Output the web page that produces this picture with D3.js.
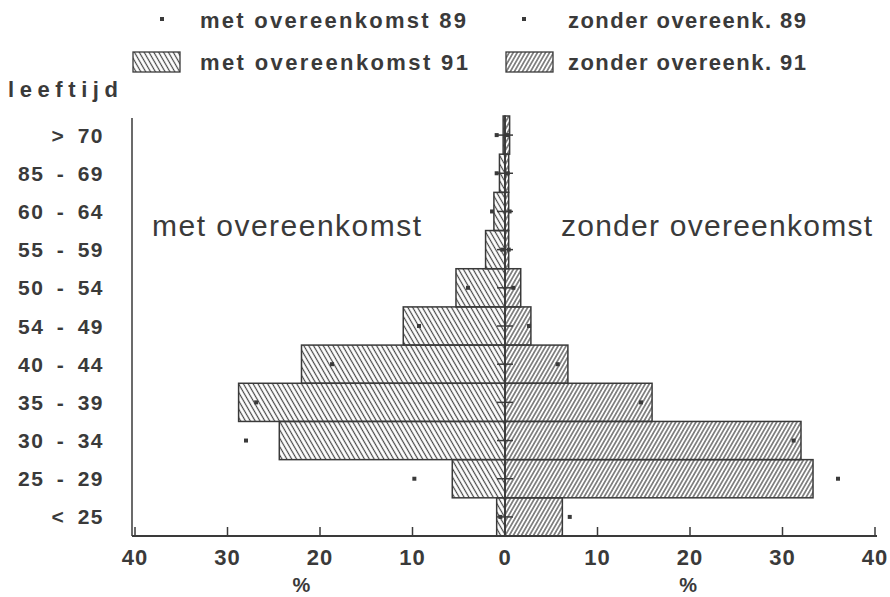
<!DOCTYPE html>
<html>
<head>
<meta charset="utf-8">
<script src="https://cdn.jsdelivr.net/npm/d3@7"></script>
<style>
  html, body { margin: 0; padding: 0; background: #fff; }
  svg { display: block; }
  text { font-family: "Liberation Sans", Arial, sans-serif; fill: #3a3a3a; }
</style>
</head>
<body>
<svg id="chart" width="890" height="597"></svg>
<script>
// Age groups, top to bottom
const ageGroups = ["> 70", "85 - 69", "60 - 64", "55 - 59", "50 - 54", "54 - 49",
                   "40 - 44", "35 - 39", "30 - 34", "25 - 29", "< 25"];

// Percent per age group, 1991 (bars)
const met91    = [0.2, 0.6, 1.2, 2.1, 5.3, 11.0, 22.0, 28.8, 24.4, 5.7, 0.9];
const zonder91 = [0.5, 0.4, 0.4, 0.4, 1.7, 2.8, 6.8, 15.9, 32.0, 33.3, 6.2];

// Percent per age group, 1989 (dots)
const met89    = [0.9, 0.9, 1.4, 0.3, 4.0, 9.3, 18.7, 26.9, 28.0, 9.8, 0.5];
const zonder89 = [0.3, 0.3, 0.5, 0.4, 0.9, 2.6, 5.7, 14.7, 31.2, 36.0, 7.0];

// Axis tick values (percent) on each side
const xTicks = [0, 10, 20, 30, 40];

// Legend entries
const legendLabels = ["met overeenkomst 89", "zonder overeenk. 89",
                      "met overeenkomst 91", "zonder overeenk. 91"];

const ink = "#3a3a3a";
const svg = d3.select("#chart");

const center = 505, axisY = 536, left = 132, right = 877;
const xMet = d3.scaleLinear().domain([0, 40]).range([center, center - 370]);
const xZon = d3.scaleLinear().domain([0, 40]).range([center, center + 370]);
const y = d3.scaleBand().domain(ageGroups).range([116, axisY]).padding(0);

// Hatch patterns
const defs = svg.append("defs");
function hatch(id, angle, gap) {
  const p = defs.append("pattern")
    .attr("id", id).attr("patternUnits", "userSpaceOnUse")
    .attr("width", gap).attr("height", 10)
    .attr("patternTransform", `rotate(${angle})`);
  p.append("line").attr("x1", gap / 2).attr("x2", gap / 2)
    .attr("y1", -1).attr("y2", 11)
    .attr("stroke", "#454545").attr("stroke-width", 1.2);
}
hatch("hatchMet", -30, 4.2);
hatch("hatchZon", 30, 3.5);

// Bars 1991
const g = svg.append("g");
g.selectAll("rect.met").data(ageGroups).join("rect")
  .attr("class", "met")
  .attr("x", (d, i) => xMet(met91[i]))
  .attr("y", d => y(d))
  .attr("width", (d, i) => xMet(0) - xMet(met91[i]))
  .attr("height", y.bandwidth())
  .attr("fill", "url(#hatchMet)")
  .attr("stroke", ink).attr("stroke-width", 1.5);

g.selectAll("rect.zon").data(ageGroups).join("rect")
  .attr("class", "zon")
  .attr("x", xZon(0))
  .attr("y", d => y(d))
  .attr("width", (d, i) => xZon(zonder91[i]) - xZon(0))
  .attr("height", y.bandwidth())
  .attr("fill", "url(#hatchZon)")
  .attr("stroke", ink).attr("stroke-width", 1.5);

// Centre line with its age-group ticks
g.append("line")
  .attr("x1", center).attr("x2", center)
  .attr("y1", y.range()[0]).attr("y2", axisY)
  .attr("stroke", ink).attr("stroke-width", 1.6);
g.selectAll("line.ctick").data(ageGroups).join("line")
  .attr("class", "ctick")
  .attr("x1", center - 8).attr("x2", center + 8)
  .attr("y1", d => y(d) + y.bandwidth() / 2)
  .attr("y2", d => y(d) + y.bandwidth() / 2)
  .attr("stroke", ink).attr("stroke-width", 1.5);

// Dots 1989
const dot = 4;
g.selectAll("rect.d89m").data(ageGroups).join("rect")
  .attr("class", "d89m")
  .attr("x", (d, i) => xMet(met89[i]) - dot / 2)
  .attr("y", d => y(d) + y.bandwidth() / 2 - dot / 2)
  .attr("width", dot).attr("height", dot).attr("fill", ink);
g.selectAll("rect.d89z").data(ageGroups).join("rect")
  .attr("class", "d89z")
  .attr("x", (d, i) => xZon(zonder89[i]) - dot / 2)
  .attr("y", d => y(d) + y.bandwidth() / 2 - dot / 2)
  .attr("width", dot).attr("height", dot).attr("fill", ink);

// Frame: left axis line and bottom axis line
svg.append("line").attr("x1", left).attr("x2", left)
  .attr("y1", 118).attr("y2", axisY)
  .attr("stroke", ink).attr("stroke-width", 1.5);
svg.append("line").attr("x1", left).attr("x2", right)
  .attr("y1", axisY).attr("y2", axisY)
  .attr("stroke", ink).attr("stroke-width", 1.8);

// Bottom ticks (inward) and labels on both sides
const tickData = [];
xTicks.forEach(v => { if (v > 0) tickData.push({ v, x: xMet(v) }); });
xTicks.forEach(v => { tickData.push({ v, x: xZon(v) }); });
svg.selectAll("line.xt").data(tickData.filter(d => d.v > 0)).join("line")
  .attr("class", "xt")
  .attr("x1", d => d.x).attr("x2", d => d.x)
  .attr("y1", axisY).attr("y2", axisY - 9)
  .attr("stroke", ink).attr("stroke-width", 1.5);
svg.selectAll("text.xl").data(tickData).join("text")
  .attr("class", "xl")
  .attr("x", d => d.x).attr("y", 565)
  .attr("text-anchor", "middle")
  .attr("font-size", 22).attr("font-weight", "bold")
  .attr("letter-spacing", 1)
  .text(d => d.v);
svg.selectAll("text.pct").data([xMet(22), xZon(19.8)]).join("text")
  .attr("class", "pct")
  .attr("x", d => d).attr("y", 592)
  .attr("text-anchor", "middle")
  .attr("font-size", 20).attr("font-weight", "bold")
  .text("%");

// Age-group labels
svg.selectAll("text.yl").data(ageGroups).join("text")
  .attr("class", "yl")
  .attr("x", 104)
  .attr("y", d => y(d) + y.bandwidth() / 2 + 7.5)
  .attr("text-anchor", "end")
  .attr("font-size", 21).attr("font-weight", "bold")
  .attr("letter-spacing", 1.5).attr("word-spacing", 5)
  .text(d => d);

svg.append("text").attr("x", 8).attr("y", 97)
  .attr("font-size", 22).attr("font-weight", "bold")
  .attr("textLength", 110).attr("lengthAdjust", "spacing")
  .text("leeftijd");

// Side titles
svg.append("text").attr("x", 152).attr("y", 236)
  .attr("font-size", 30)
  .attr("textLength", 269).attr("lengthAdjust", "spacing")
  .text("met overeenkomst");
svg.append("text").attr("x", 561).attr("y", 236)
  .attr("font-size", 30)
  .attr("textLength", 311).attr("lengthAdjust", "spacing")
  .text("zonder overeenkomst");

// Legend
const legendPos = [
  { x: 200, y: 28, w: 266, kind: "dot", mx: 162 },
  { x: 568, y: 28, w: 238, kind: "dot", mx: 524 },
  { x: 200, y: 70, w: 268, kind: "met", mx: 133 },
  { x: 568, y: 70, w: 238, kind: "zon", mx: 506 }
];
legendLabels.forEach((label, i) => {
  const p = legendPos[i];
  if (p.kind === "dot") {
    svg.append("rect").attr("x", p.mx - 2).attr("y", p.y - 11)
      .attr("width", 4).attr("height", 4).attr("fill", ink);
  } else {
    svg.append("rect").attr("x", p.mx).attr("y", p.y - 18)
      .attr("width", 47).attr("height", 20)
      .attr("fill", p.kind === "met" ? "url(#hatchMet)" : "url(#hatchZon)")
      .attr("stroke", ink).attr("stroke-width", 1.3);
  }
  svg.append("text").attr("x", p.x).attr("y", p.y)
    .attr("font-size", 22).attr("font-weight", "bold")
    .attr("textLength", p.w).attr("lengthAdjust", "spacing")
    .text(label);
});
</script>
</body>
</html>
